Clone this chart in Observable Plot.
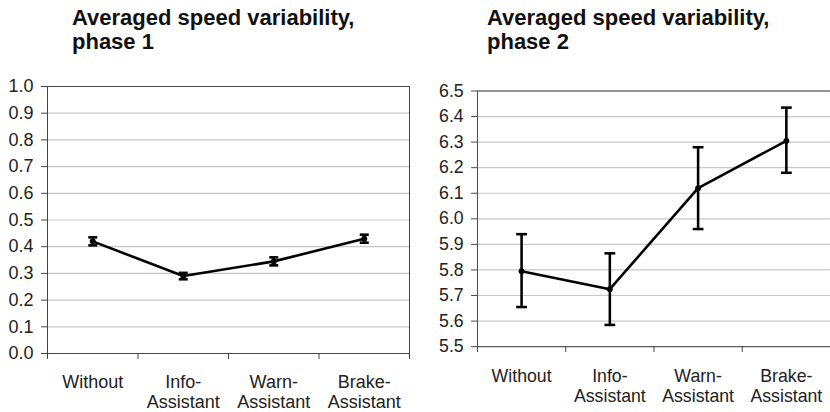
<!DOCTYPE html>
<html>
<head>
<meta charset="utf-8">
<script src="https://cdn.jsdelivr.net/npm/d3@7"></script>
<script src="https://cdn.jsdelivr.net/npm/@observablehq/plot@0.6"></script>
<style>
  html, body { margin: 0; padding: 0; background: #fff; }
  #wrap { position: relative; width: 830px; height: 412px; overflow: hidden; background: #fff;
          font-family: "Liberation Sans", Arial, sans-serif; }
  .title { position: absolute; top: 6px; font-weight: bold; font-size: 22px; line-height: 23.5px; color: #111; white-space: nowrap; }
  .chart { position: absolute; top: 60px; }
  .chart svg { overflow: visible; }
</style>
</head>
<body>
<div id="wrap">
  <div class="title" style="left:72px">Averaged speed variability,<br>phase 1</div>
  <div class="title" style="left:487px">Averaged speed variability,<br>phase 2</div>
  <div class="chart" id="c1" style="left:0px"></div>
  <div class="chart" id="c2" style="left:415px"></div>
</div>
<script>
// ---- data ----
const categories = ["Without", "Info-\nAssistant", "Warn-\nAssistant", "Brake-\nAssistant"];

const phase1Mean = [0.42, 0.29, 0.345, 0.43];
const phase1Low  = [0.405, 0.278, 0.330, 0.415];
const phase1High = [0.435, 0.302, 0.360, 0.445];
const phase1Ticks = [0.0, 0.1, 0.2, 0.3, 0.4, 0.5, 0.6, 0.7, 0.8, 0.9, 1.0];

const phase2Mean = [5.795, 5.725, 6.12, 6.305];
const phase2Low  = [5.655, 5.585, 5.96, 6.18];
const phase2High = [5.94, 5.865, 6.28, 6.435];
const phase2Ticks = [5.5, 5.6, 5.7, 5.8, 5.9, 6.0, 6.1, 6.2, 6.3, 6.4, 6.5];

const capSymbol = {
  draw(ctx, size) {
    const w = Math.sqrt(size / Math.PI);
    ctx.moveTo(-w, 0);
    ctx.lineTo(w, 0);
  }
};

function chart({mean, low, high, ticks, width, marginLeft, marginRight, marginTop, marginBottom, labelDy, capR}) {
  const data = categories.map((c, i) => ({pos: i + 0.5, label: c, mean: mean[i], low: low[i], high: high[i]}));
  const yDomain = [ticks[0], ticks[ticks.length - 1]];
  return Plot.plot({
    width, height: 352, marginLeft, marginRight, marginTop, marginBottom,
    style: {fontFamily: '"Liberation Sans", Arial, sans-serif', fontSize: "18px", color: "#222", background: "transparent", overflow: "visible"},
    x: {domain: [0, categories.length], axis: null, label: null},
    y: {domain: yDomain, axis: null, label: null},
    marks: [
      Plot.ruleY(ticks, {stroke: "#c8c8c8", strokeWidth: 1.2}),
      Plot.frame({stroke: "#444"}),
      Plot.axisY({ticks, tickFormat: d => d.toFixed(1), tickSize: 6, tickPadding: 8, stroke: "#444", fontSize: 18, label: null}),
      Plot.axisX({ticks: d3.range(categories.length + 1), tickFormat: () => "", tickSize: 6, stroke: "#444", label: null}),
      Plot.ruleX(data, {x: "pos", y1: "low", y2: "high", stroke: "black", strokeWidth: 2.6}),
      Plot.dot(data, {x: "pos", y: "low", symbol: capSymbol, r: capR, stroke: "black", strokeWidth: 2.6}),
      Plot.dot(data, {x: "pos", y: "high", symbol: capSymbol, r: capR, stroke: "black", strokeWidth: 2.6}),
      Plot.line(data, {x: "pos", y: "mean", stroke: "black", strokeWidth: 2.6}),
      Plot.dot(data, {x: "pos", y: "mean", r: 3, fill: "black"}),
      Plot.text(data, {x: "pos", y: yDomain[0], text: "label", lineAnchor: "top", dy: labelDy, lineHeight: 1.12, fontSize: 18, fill: "#222"})
    ]
  });
}

document.getElementById("c1").append(chart({
  mean: phase1Mean, low: phase1Low, high: phase1High, ticks: phase1Ticks,
  width: 415, marginLeft: 47, marginRight: 6, marginTop: 26, marginBottom: 59, labelDy: 20, capR: 4.5
}));
document.getElementById("c2").append(chart({
  mean: phase2Mean, low: phase2Low, high: phase2High, ticks: phase2Ticks,
  width: 422, marginLeft: 63, marginRight: 0, marginTop: 31, marginBottom: 61, labelDy: 22, capR: 5.5
}));
</script>
</body>
</html>
